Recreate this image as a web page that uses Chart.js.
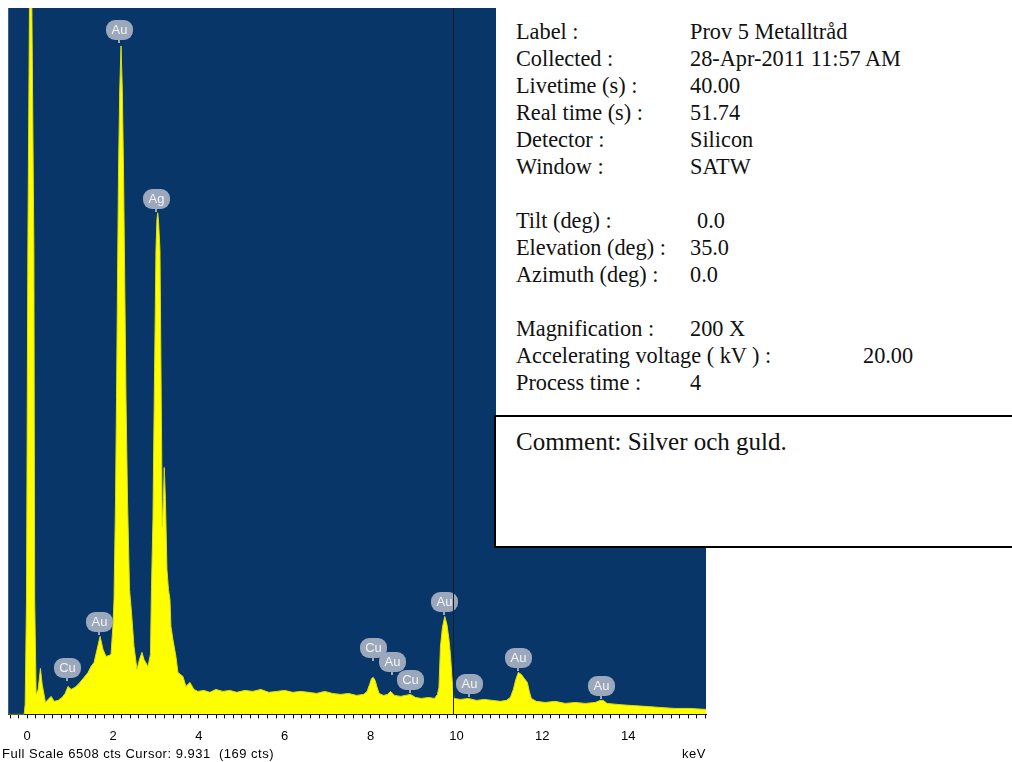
<!DOCTYPE html>
<html>
<head>
<meta charset="utf-8">
<script src="https://cdn.jsdelivr.net/npm/chart.js@4.4.0/dist/chart.umd.min.js"></script>
<style>
  body { margin: 0; background: #fff; }
  #wrap { position: relative; width: 1012px; height: 762px; overflow: hidden; }
  #info { position: absolute; left: 496px; top: 0; width: 516px; height: 416px; background: #fff;
          font-family: "Liberation Serif", "DejaVu Serif", serif; font-size: 22.3px; color: #111; }
  #info div { position: absolute; line-height: 27px; white-space: nowrap; }
  #comment { position: absolute; left: 494px; top: 415px; width: 520px; height: 133px; background: #fff;
             box-sizing: border-box; border: 2px solid #000; border-right: none;
             font-family: "Liberation Serif", "DejaVu Serif", serif; font-size: 25px; color: #111; }
  #comment span { position: absolute; left: 20px; top: 11px; white-space: nowrap; }
</style>
</head>
<body>
<div id="wrap">
  <canvas id="spectrum" width="1012" height="762"></canvas>
  <div id="info"></div>
  <div id="comment"><span>Comment: Silver och guld.</span></div>
</div>
<script>
// spectrum (keV, counts)
const energy = [
  -0.442, -0.070, -0.047, -0.016, 0.016, 0.053, 0.081, 0.109, 0.156, 0.174,
  0.209, 0.256, 0.309, 0.349, 0.426, 0.488, 0.558, 0.628, 0.721, 0.814,
  0.884, 0.953, 1.023, 1.116, 1.209, 1.326, 1.419, 1.488, 1.558, 1.628,
  1.698, 1.767, 1.837, 1.907, 1.953, 2.000, 2.023, 2.058, 2.081, 2.105,
  2.128, 2.156, 2.186, 2.216, 2.244, 2.272, 2.302, 2.337, 2.384, 2.430,
  2.488, 2.558, 2.616, 2.674, 2.721, 2.814, 2.872, 2.895, 2.930, 2.947,
  3.000, 3.023, 3.040, 3.058, 3.093, 3.133, 3.144, 3.174, 3.193, 3.221,
  3.256, 3.291, 3.326, 3.349, 3.395, 3.465, 3.512, 3.570, 3.628, 3.698,
  3.791, 3.884, 3.977, 4.116, 4.256, 4.395, 4.558, 4.721, 4.884, 5.070,
  5.256, 5.442, 5.628, 5.814, 6.000, 6.186, 6.372, 6.558, 6.744, 6.930,
  7.116, 7.302, 7.488, 7.674, 7.837, 7.919, 7.977, 8.023, 8.063, 8.105,
  8.151, 8.198, 8.302, 8.395, 8.465, 8.558, 8.698, 8.814, 8.930, 9.047,
  9.186, 9.349, 9.488, 9.558, 9.593, 9.628, 9.674, 9.728, 9.779, 9.826,
  9.860, 9.907, 9.942, 10.093, 10.279, 10.465, 10.651, 10.837, 11.023, 11.163,
  11.256, 11.326, 11.384, 11.442, 11.512, 11.581, 11.651, 11.698, 11.744, 11.860,
  12.070, 12.302, 12.535, 12.767, 13.000, 13.233, 13.349, 13.419, 13.512, 13.744,
  14.047, 14.395, 14.744, 15.093, 15.442, 15.814
];
const counts = [
  0, 0, 92, 1059, 4280, 6508, 10000, 6508, 4280, 1059,
  184, 230, 423, 276, 110, 138, 166, 120, 129, 156,
  193, 258, 230, 249, 285, 341, 387, 442, 479, 598,
  718, 598, 534, 543, 552, 828, 1059, 1979, 2900, 4004,
  5017, 5753, 6158, 5753, 5017, 4004, 2900, 1979, 1151, 939,
  626, 414, 506, 571, 506, 442, 552, 1151, 1795, 2439,
  4280, 4557, 4621, 4557, 4280, 2439, 1731, 1979, 2274, 1979,
  1335, 1151, 1059, 810, 690, 534, 387, 368, 350, 258,
  295, 230, 212, 221, 203, 230, 212, 221, 203, 221,
  212, 230, 203, 212, 221, 203, 212, 203, 193, 212,
  193, 184, 193, 175, 184, 212, 276, 331, 341, 313,
  249, 193, 175, 184, 212, 175, 166, 175, 184, 156,
  147, 156, 147, 184, 250, 626, 801, 902, 828, 690,
  552, 276, 147, 138, 147, 129, 138, 129, 120, 129,
  156, 230, 322, 387, 368, 331, 295, 212, 147, 120,
  110, 120, 101, 110, 101, 110, 129, 129, 101, 92,
  83, 74, 64, 55, 55, 46
];

// element markers: name, keV, counts at the stem foot
const peakNames = ['Au', 'Ag', 'Au', 'Cu', 'Cu', 'Au', 'Cu', 'Au', 'Au', 'Au', 'Au'];
const peakKeV   = [2.14, 3.00, 1.674, 0.93, 8.05, 8.51, 8.91, 9.70, 10.30, 11.44, 13.37];
const peakCts   = [6177, 4621, 718, 295, 479, 350, 184, 902, 147, 387, 129];

const tickKeV = [0, 2, 4, 6, 8, 10, 12, 14];
const fullScale = 6508;
const cursorKeV = 9.931;
const footerLeft = 'Full Scale 6508 cts Cursor: 9.931  (169 cts)';
const footerRight = 'keV';

const infoRows = [
  ['Label :', 'Prov 5 Metalltråd'],
  ['Collected :', '28-Apr-2011 11:57 AM'],
  ['Livetime (s) :', '40.00'],
  ['Real time (s) :', '51.74'],
  ['Detector :', 'Silicon'],
  ['Window :', 'SATW'],
  null,
  ['Tilt (deg) :', ' 0.0'],
  ['Elevation (deg) :', '35.0'],
  ['Azimuth (deg) :', '0.0'],
  null,
  ['Magnification :', '200 X'],
  ['Accelerating voltage ( kV ) :', '20.00'],
  ['Process time :', '4']
];

// info panel text
const info = document.getElementById('info');
infoRows.forEach((row, i) => {
  if (!row) return;
  const top = 18 + i * 27;
  const a = document.createElement('div');
  a.style.left = '20px'; a.style.top = top + 'px'; a.textContent = row[0];
  info.appendChild(a);
  const b = document.createElement('div');
  b.style.left = (row[0].startsWith('Accelerating') ? 367 : row[1].startsWith(' ') ? 201 : 194) + 'px';
  b.style.top = top + 'px'; b.textContent = row[1].trim();
  info.appendChild(b);
});

const BLUE = '#093668';
const SANS = '"Liberation Sans", Arial, sans-serif';

const backdrop = {
  id: 'backdrop',
  beforeDraw(chart) {
    const { ctx, chartArea: a } = chart;
    ctx.save();
    ctx.fillStyle = BLUE;
    ctx.fillRect(a.left, a.top, a.right - a.left, a.bottom - a.top);
    ctx.restore();
  }
};

const markers = {
  id: 'markers',
  afterDatasetsDraw(chart) {
    const { ctx, scales: { x, y } } = chart;
    ctx.save();
    peakNames.forEach((name, i) => {
      const px = Math.round(x.getPixelForValue(peakKeV[i]));
      const py = Math.round(y.getPixelForValue(peakCts[i]));
      ctx.strokeStyle = '#9ba7ba';
      ctx.lineWidth = 2;
      ctx.beginPath();
      ctx.moveTo(px, py - 1);
      ctx.lineTo(px, py - 8);
      ctx.stroke();
      ctx.fillStyle = '#9ba7ba';
      ctx.beginPath();
      ctx.roundRect(px - 13, py - 24, 27, 20, 9);
      ctx.fill();
      ctx.fillStyle = '#f4f4f4';
      ctx.font = '13px ' + SANS;
      ctx.textAlign = 'center';
      ctx.textBaseline = 'middle';
      ctx.fillText(name, px + 0.5, py - 14);
    });
    // cursor line
    const cx = Math.round(x.getPixelForValue(cursorKeV)) + 0.5;
    ctx.strokeStyle = '#1c1c1c';
    ctx.lineWidth = 1;
    ctx.beginPath();
    ctx.moveTo(cx, chart.chartArea.top);
    ctx.lineTo(cx, chart.chartArea.bottom);
    ctx.stroke();
    ctx.restore();
  },
  afterDraw(chart) {
    const { ctx, chartArea: a } = chart;
    ctx.save();
    ctx.fillStyle = '#000';
    ctx.font = '13px ' + SANS;
    ctx.letterSpacing = '0.5px';
    ctx.textBaseline = 'alphabetic';
    ctx.textAlign = 'left';
    ctx.fillText(footerLeft, 2, 758);
    ctx.textAlign = 'right';
    ctx.fillText(footerRight, a.right, 758);
    ctx.restore();
  }
};

const isMajor = v => tickKeV.some(t => Math.abs(v - t) < 1e-6);

new Chart(document.getElementById('spectrum').getContext('2d'), {
  type: 'line',
  data: {
    labels: energy,
    datasets: [{
      data: energy.map((e, i) => ({ x: e, y: counts[i] })),
      borderColor: '#dede10',
      borderWidth: 1,
      backgroundColor: '#ffff00',
      fill: 'origin',
      pointRadius: 0,
      tension: 0
    }]
  },
  options: {
    responsive: false,
    animation: false,
    events: [],
    layout: { padding: { left: 7, right: 306, top: 8, bottom: 8 } },
    plugins: { legend: { display: false }, tooltip: { enabled: false } },
    scales: {
      x: {
        type: 'linear',
        min: -0.442,
        max: 15.814,
        grid: { drawOnChartArea: false, tickLength: 4, color: '#000', tickColor: '#000' },
        border: { display: true, color: '#000', width: 1 },
        ticks: {
          stepSize: 0.2,
          includeBounds: false,
          autoSkip: false,
          maxRotation: 0,
          padding: 10,
          color: '#000',
          font: { family: SANS, size: 13 },
          callback: v => isMajor(v) ? String(Math.round(v)) : ''
        }
      },
      y: { display: false, min: 0, max: fullScale }
    }
  },
  plugins: [backdrop, markers]
});
</script>
</body>
</html>
